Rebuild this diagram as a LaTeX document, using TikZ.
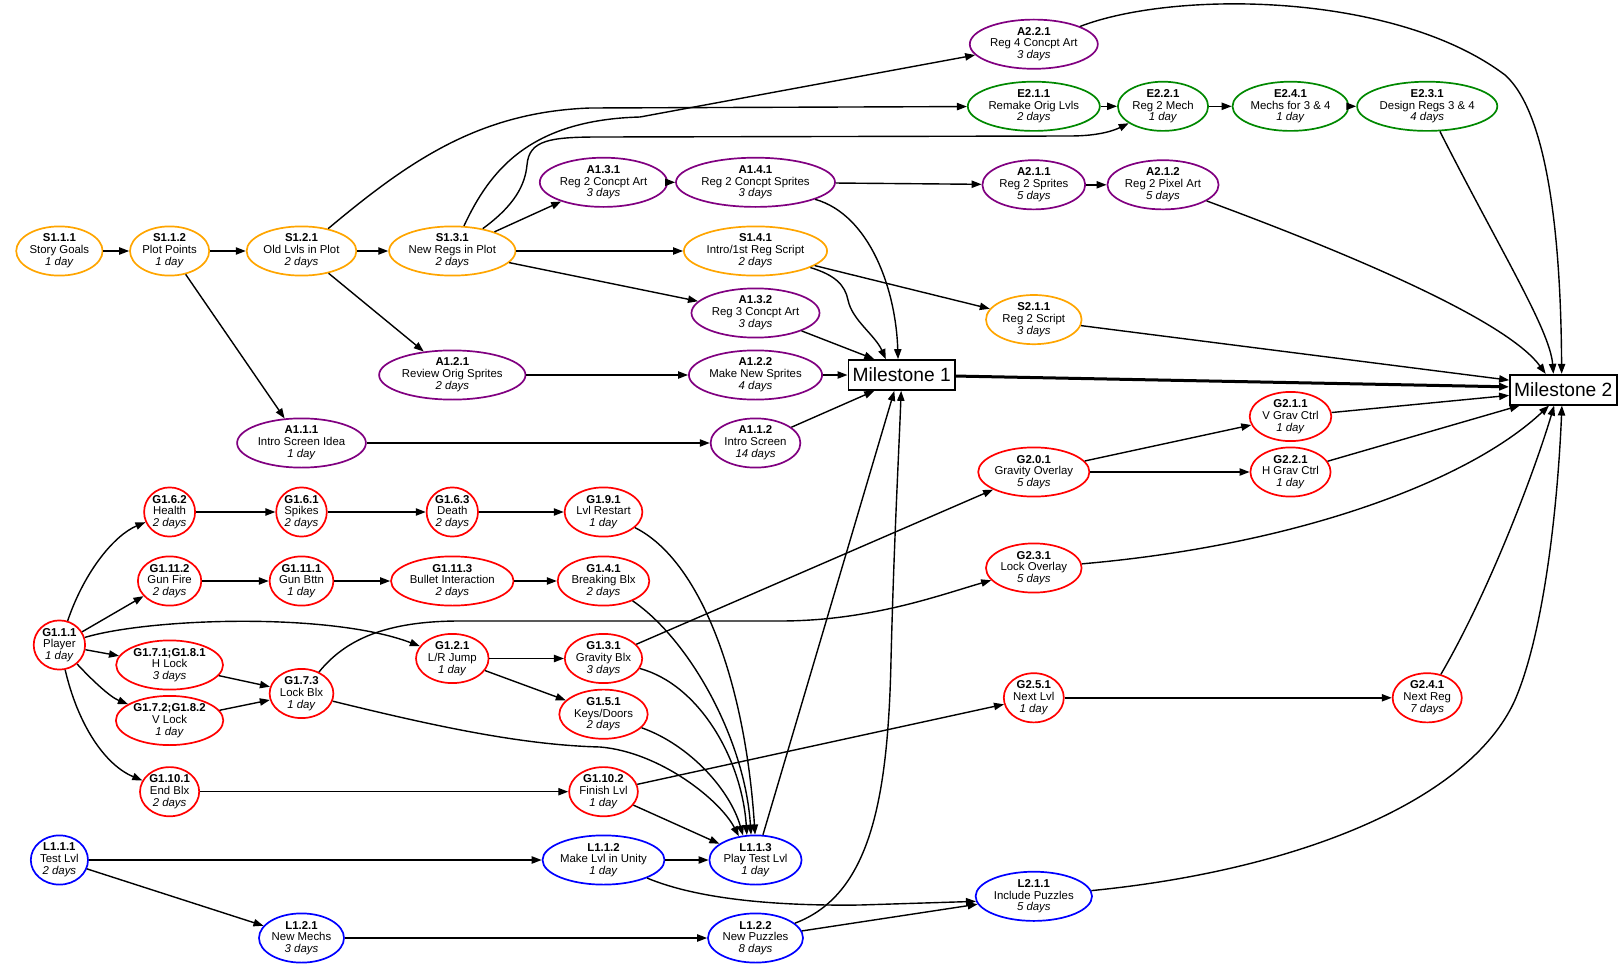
\documentclass[tikz,border=0pt]{standalone}
\usepackage{fontspec}
\setmainfont{Liberation Sans}
\usetikzlibrary{shapes.geometric,arrows.meta}
\definecolor{orng}{HTML}{FFA500}
\definecolor{purp}{HTML}{800080}
\definecolor{grn}{HTML}{008800}
\definecolor{rd}{HTML}{FF0000}
\definecolor{bl}{HTML}{0000FF}
\newcommand\taskfont{\fontsize{11.4}{11.8}\selectfont}
\newcommand\msfont{\fontsize{19.2}{20}\selectfont}
\tikzset{
  task/.style={ellipse, draw=#1, line width=1.7pt, inner xsep=-40pt, inner ysep=-40pt,
    minimum height=49.2pt, align=center, font=\taskfont, text=black},
  hw/.style={minimum width={2*#1}},
  ms/.style={rectangle, draw=black, line width=1.7pt, minimum width=106.7pt,
    minimum height=30pt, inner sep=0pt, font=\msfont},
  edge/.style={line width=1.4pt, -{Triangle[length=10pt,width=7.3pt]}},
}
\begin{document}
\begin{tikzpicture}[x=1pt,y=-1pt]
\useasboundingbox (0,0) rectangle (1620,979);
% ---------- Story (orange)
\node[task=orng, hw=43.2] (S111) at (59.4,251) {\textbf{S1.1.1}\\Story Goals\\\textit{1 day}};
\node[task=orng, hw=39.6] (S112) at (169.6,251) {\textbf{S1.1.2}\\Plot Points\\\textit{1 day}};
\node[task=orng, hw=54.9] (S121) at (301.5,251) {\textbf{S1.2.1}\\Old Lvls in Plot\\\textit{2 days}};
\node[task=orng, hw=63.2] (S131) at (452.3,251) {\textbf{S1.3.1}\\New Regs in Plot\\\textit{2 days}};
\node[task=orng, hw=71.6] (S141) at (755.5,251) {\textbf{S1.4.1}\\Intro/1st Reg Script\\\textit{2 days}};
\node[task=orng, hw=47.8] (S211) at (1033.8,319.6) {\textbf{S2.1.1}\\Reg 2 Script\\\textit{3 days}};
% ---------- Art (purple)
\node[task=purp, hw=64.4] (A111) at (301.5,443) {\textbf{A1.1.1}\\Intro Screen Idea\\\textit{1 day}};
\node[task=purp, hw=44.9] (A112) at (755.5,443) {\textbf{A1.1.2}\\Intro Screen\\\textit{14 days}};
\node[task=purp, hw=73.2] (A121) at (452.3,375) {\textbf{A1.2.1}\\Review Orig Sprites\\\textit{2 days}};
\node[task=purp, hw=66.6] (A122) at (755.5,375) {\textbf{A1.2.2}\\Make New Sprites\\\textit{4 days}};
\node[task=purp, hw=63.7] (A131) at (603.5,182.3) {\textbf{A1.3.1}\\Reg 2 Concpt Art\\\textit{3 days}};
\node[task=purp, hw=64] (A132) at (755.5,313) {\textbf{A1.3.2}\\Reg 3 Concpt Art\\\textit{3 days}};
\node[task=purp, hw=79.5] (A141) at (755.5,182.3) {\textbf{A1.4.1}\\Reg 2 Concpt Sprites\\\textit{3 days}};
\node[task=purp, hw=51.4] (A211) at (1033.8,184.8) {\textbf{A2.1.1}\\Reg 2 Sprites\\\textit{5 days}};
\node[task=purp, hw=55.6] (A212) at (1163,184.8) {\textbf{A2.1.2}\\Reg 2 Pixel Art\\\textit{5 days}};
\node[task=purp, hw=64] (A221) at (1033.8,44.2) {\textbf{A2.2.1}\\Reg 4 Concpt Art\\\textit{3 days}};
% ---------- Engine (green)
\node[task=grn, hw=66] (E211) at (1033.8,106.3) {\textbf{E2.1.1}\\Remake Orig Lvls\\\textit{2 days}};
\node[task=grn, hw=45.1] (E221) at (1163,106.3) {\textbf{E2.2.1}\\Reg 2 Mech\\\textit{1 day}};
\node[task=grn, hw=58] (E241) at (1290.5,106.3) {\textbf{E2.4.1}\\Mechs for 3 \& 4\\\textit{1 day}};
\node[task=grn, hw=70.1] (E231) at (1427.2,106.3) {\textbf{E2.3.1}\\Design Regs 3 \& 4\\\textit{4 days}};
% ---------- Game (red)
\node[task=rd, hw=25.7] (G111) at (59.4,645) {\textbf{G1.1.1}\\Player\\\textit{1 day}};
\node[task=rd, hw=25.5] (G162) at (169.6,512) {\textbf{G1.6.2}\\Health\\\textit{2 days}};
\node[task=rd, hw=25.3] (G161) at (301.5,512) {\textbf{G1.6.1}\\Spikes\\\textit{2 days}};
\node[task=rd, hw=25.7] (G163) at (452.3,512) {\textbf{G1.6.3}\\Death\\\textit{2 days}};
\node[task=rd, hw=38.9] (G191) at (603.5,512) {\textbf{G1.9.1}\\Lvl Restart\\\textit{1 day}};
\node[task=rd, hw=31.7] (G1112) at (169.6,581) {\textbf{G1.11.2}\\Gun Fire\\\textit{2 days}};
\node[task=rd, hw=31.9] (G1111) at (301.5,581) {\textbf{G1.11.1}\\Gun Bttn\\\textit{1 day}};
\node[task=rd, hw=61.3] (G1113) at (452.3,581) {\textbf{G1.11.3}\\Bullet Interaction\\\textit{2 days}};
\node[task=rd, hw=45.8] (G141) at (603.5,581) {\textbf{G1.4.1}\\Breaking Blx\\\textit{2 days}};
\node[task=rd, hw=53.4] (HL) at (169.6,665) {\textbf{G1.7.1;G1.8.1}\\H Lock\\\textit{3 days}};
\node[task=rd, hw=53.7] (VL) at (169.6,720.5) {\textbf{G1.7.2;G1.8.2}\\V Lock\\\textit{1 day}};
\node[task=rd, hw=31.9] (G173) at (301.5,693.5) {\textbf{G1.7.3}\\Lock Blx\\\textit{1 day}};
\node[task=rd, hw=36.3] (G121) at (452.3,658.5) {\textbf{G1.2.1}\\L/R Jump\\\textit{1 day}};
\node[task=rd, hw=38.7] (G131) at (603.5,658.5) {\textbf{G1.3.1}\\Gravity Blx\\\textit{3 days}};
\node[task=rd, hw=44.2] (G151) at (603.5,714.2) {\textbf{G1.5.1}\\Keys/Doors\\\textit{2 days}};
\node[task=rd, hw=29.6] (G1101) at (169.6,791.7) {\textbf{G1.10.1}\\End Blx\\\textit{2 days}};
\node[task=rd, hw=34.4] (G1102) at (603.5,791.7) {\textbf{G1.10.2}\\Finish Lvl\\\textit{1 day}};
\node[task=rd, hw=55.6] (G201) at (1033.8,472) {\textbf{G2.0.1}\\Gravity Overlay\\\textit{5 days}};
\node[task=rd, hw=40.8] (G211) at (1290.5,416.5) {\textbf{G2.1.1}\\V Grav Ctrl\\\textit{1 day}};
\node[task=rd, hw=40.1] (G221) at (1290.5,472) {\textbf{G2.2.1}\\H Grav Ctrl\\\textit{1 day}};
\node[task=rd, hw=47.8] (G231) at (1033.8,568) {\textbf{G2.3.1}\\Lock Overlay\\\textit{5 days}};
\node[task=rd, hw=30] (G251) at (1033.8,697.8) {\textbf{G2.5.1}\\Next Lvl\\\textit{1 day}};
\node[task=rd, hw=34.6] (G241) at (1427.2,697.8) {\textbf{G2.4.1}\\Next Reg\\\textit{7 days}};
% ---------- Levels (blue)
\node[task=bl, hw=28.6] (L111) at (59.4,860) {\textbf{L1.1.1}\\Test Lvl\\\textit{2 days}};
\node[task=bl, hw=61] (L112) at (603.5,860) {\textbf{L1.1.2}\\Make Lvl in Unity\\\textit{1 day}};
\node[task=bl, hw=46.1] (L113) at (755.5,860) {\textbf{L1.1.3}\\Play Test Lvl\\\textit{1 day}};
\node[task=bl, hw=42.5] (L121) at (301.5,938) {\textbf{L1.2.1}\\New Mechs\\\textit{3 days}};
\node[task=bl, hw=47.5] (L122) at (755.5,938) {\textbf{L1.2.2}\\New Puzzles\\\textit{8 days}};
\node[task=bl, hw=58.2] (L211) at (1033.8,896.3) {\textbf{L2.1.1}\\Include Puzzles\\\textit{5 days}};
% ---------- Milestones
\node[ms] (M1) at (901.7,375) {Milestone 1};
\node[ms] (M2) at (1563.3,389.7) {Milestone 2};
% ---------- Edges: story / art / engine
\draw[edge] (S111) -- (S112);
\draw[edge] (S112) -- (S121);
\draw[edge] (S112) -- (A111);
\draw[edge] (S121) -- (S131);
\draw[edge] (S121) -- (A121);
\draw[edge] (S121) .. controls (410,160) and (480,112) .. (590,108) -- (E211);
\draw[edge] (S131) .. controls (490,170) and (530,120) .. (640,117) -- (A221);
\draw[edge] (S131) .. controls (515,205) and (525,185) .. (527,165) .. controls (529,140) and (550,137) .. (600,137) -- (1070,136) .. controls (1100,136) and (1115,130) .. (E221);
\draw[edge] (S131) -- (A131);
\draw[edge] (S131) -- (S141);
\draw[edge] (S131) -- (A132);
\draw[edge] (A131) -- (A141);
\draw[edge] (A141) -- (A211);
\draw[edge] (A141) .. controls (870,215) and (896,290) .. (M1.103);
\draw[edge] (A211) -- (A212);
\draw[edge] (A212) .. controls (1380,265) and (1510,325) .. (M2.138);
\draw[edge] (A221) .. controls (1175,-10) and (1395,-8) .. (1505,75) .. controls (1550,115) and (1561,250) .. (M2.96);
\draw[edge] (E211) -- (E221);
\draw[edge] (E221) -- (E241);
\draw[edge] (E241) -- (E231);
\draw[edge] (E231) .. controls (1500,250) and (1550,330) .. (M2.122);
\draw[edge] (S141) -- (S211);
\draw[edge] (S141) .. controls (835,275) and (845,285) .. (848,300) .. controls (852,320) and (875,335) .. (M1.135);
\draw[edge] (S211) -- (M2.170);
\draw[edge] (A132) -- (M1.150);
\draw[edge] (A121) -- (A122);
\draw[edge] (A122) -- (M1);
\draw[edge] (A111) -- (A112);
\draw[edge] (A112) -- (M1.210);
\draw[edge, line width=3pt] (M1) -- (M2.177);
% ---------- Edges: game 2 / levels 2
\draw[edge] (G201) -- (G211);
\draw[edge] (G201) -- (G221);
\draw[edge] (G211) -- (M2.186);
\draw[edge] (G221) -- (M2.200);
\draw[edge] (G231) .. controls (1300,545) and (1470,480) .. (M2.228);
\draw[edge] (G251) -- (G241);
\draw[edge] (G241) .. controls (1490,590) and (1535,470) .. (M2.240);
\draw[edge] (L211) .. controls (1300,870) and (1470,800) .. (1515,700) .. controls (1545,630) and (1558,500) .. (M2.265);
% ---------- Edges: game 1
\draw[edge] (G111) .. controls (85,570) and (115,535) .. (G162);
\draw[edge] (G111) -- (G1112);
\draw[edge] (G111) .. controls (150,618) and (330,612) .. (G121);
\draw[edge] (G111) -- (HL);
\draw[edge] (G111) .. controls (92,680) and (110,697) .. (VL);
\draw[edge] (G111) .. controls (78,725) and (105,765) .. (G1101);
\draw[edge] (G162) -- (G161);
\draw[edge] (G161) -- (G163);
\draw[edge] (G163) -- (G191);
\draw[edge] (G191) .. controls (700,560) and (745,680) .. (L113.91);
\draw[edge] (G1112) -- (G1111);
\draw[edge] (G1111) -- (G1113);
\draw[edge] (G1113) -- (G141);
\draw[edge] (G141) .. controls (690,640) and (745,740) .. (L113.100);
\draw[edge] (HL) -- (G173);
\draw[edge] (VL) -- (G173);
\draw[edge] (G173) .. controls (345,640) and (385,621) .. (460,621) -- (780,621) .. controls (870,621) and (940,595) .. (G231);
\draw[edge] (G173) .. controls (430,725) and (520,745) .. (600,747) .. controls (660,752) and (720,800) .. (L113.125);
\draw[edge] (G121) -- (G131);
\draw[edge] (G121) -- (G151);
\draw[edge] (G131) -- (G201);
\draw[edge] (G131) .. controls (700,685) and (742,760) .. (L113.109);
\draw[edge] (G151) .. controls (690,745) and (730,790) .. (L113.117);
\draw[edge] (G1101) -- (G1102);
\draw[edge] (G1102) -- (G251);
\draw[edge] (G1102) -- (L113);
% ---------- Edges: levels
\draw[edge] (L113) -- (M1.245);
\draw[edge] (L111) -- (L112);
\draw[edge] (L111) -- (L121);
\draw[edge] (L112) -- (L113);
\draw[edge] (L112) .. controls (700,900) and (780,906) .. (860,905) -- (L211.185);
\draw[edge] (L121) -- (L122);
\draw[edge] (L122) -- (L211.188);
\draw[edge] (L122) .. controls (870,895) and (888,800) .. (891,660) .. controls (894,540) and (899,450) .. (M1.268);
\end{tikzpicture}
\end{document}
